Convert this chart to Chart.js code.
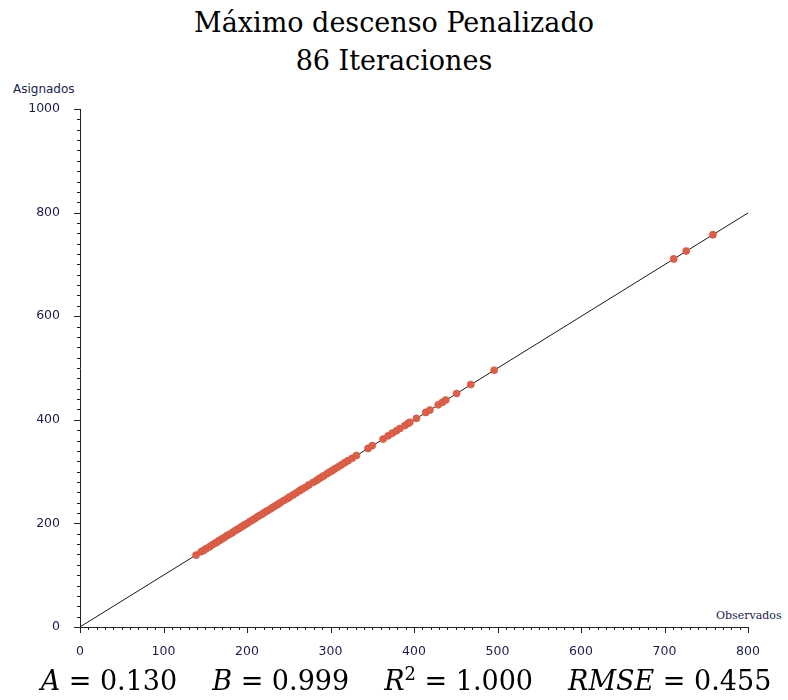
<!DOCTYPE html>
<html>
<head>
<meta charset="utf-8">
<script src="https://cdn.jsdelivr.net/npm/chart.js@4"></script>
<style>
  body { margin: 0; background: #fff; }
  #wrap { position: relative; width: 788px; height: 700px; }
  #chart { position: absolute; left: 0; top: 0; }
  .title { position: absolute; left: 0; width: 788px; text-align: center;
           font-family: "DejaVu Serif", serif; font-size: 27px; color: #000; line-height: 1; }
  .axlabel { position: absolute; font-size: 12px; color: #1c1c4c; }
  #formula { position: absolute; left: 12px; top: 665px; width: 788px; text-align: center;
             font-family: "DejaVu Serif", serif; font-size: 27px; line-height: 1; color: #000; }
  #formula span.gap { display: inline-block; width: 35px; }
</style>
</head>
<body>
<div id="wrap">
  <div class="title" style="top:9px">Máximo descenso Penalizado</div>
  <div class="title" style="top:47px">86 Iteraciones</div>
  <div class="axlabel" style="left:13px; top:82px; font-family:'DejaVu Sans', sans-serif;">Asignados</div>
  <div class="axlabel" style="left:716px; top:609px; font-family:'DejaVu Serif', serif; font-size:11px;">Observados</div>
  <canvas id="chart" width="788" height="700"></canvas>
  <div id="formula"><i>A</i> = 0.130<span class="gap"></span><i>B</i> = 0.999<span class="gap"></span><i>R</i><sup style="font-size:18px">2</sup> = 1.000<span class="gap"></span><i>RMSE</i> = 0.455</div>
</div>
<script>
const observados = [139, 145, 148, 151, 155, 158, 161, 164, 167, 170, 173, 176, 179, 182, 185, 188,
  191, 194, 197, 200, 203, 206, 209, 212, 215, 218, 221, 224, 228, 231, 234, 237, 240, 244, 248,
  251, 255, 259, 263, 266, 270, 274, 279, 283, 286, 289, 292, 296, 299, 302, 305, 309, 313, 317,
  321, 326, 331, 345, 350, 363, 369, 374, 379, 383, 389, 393, 395, 403, 414, 419, 429, 434, 438,
  451, 468, 496, 711, 726, 758]
const asignados = [138.9, 145.3, 147.8, 151.2, 154.7, 158.3, 161.1, 163.8, 167.2, 170.1, 172.8, 176.3,
  179.0, 181.7, 185.2, 188.1, 190.8, 194.2, 197.1, 199.7, 203.2, 206.0, 208.8, 212.3, 215.1, 217.8,
  221.2, 224.0, 227.7, 231.2, 234.1, 236.8, 240.2, 244.1, 247.7, 251.2, 255.0, 258.8, 263.2, 266.0,
  269.8, 274.2, 279.0, 282.7, 286.2, 289.1, 291.8, 296.2, 299.0, 301.8, 305.2, 309.0, 312.8, 317.2,
  321.0, 325.8, 331.1, 344.8, 350.2, 362.7, 369.1, 374.2, 378.8, 383.2, 388.8, 393.1, 395.2, 402.8,
  414.2, 418.8, 429.1, 433.8, 438.2, 450.8, 468.1, 495.7, 710.6, 725.8, 757.4]
const ajusteX = [0, 800]
const ajusteY = [0.13, 799.3]
const xTicks = [0, 100, 200, 300, 400, 500, 600, 700, 800]
const yTicks = [0, 200, 400, 600, 800, 1000]

const puntos = observados.map((x, i) => ({ x: x, y: asignados[i] }))
const recta = ajusteX.map((x, i) => ({ x: x, y: ajusteY[i] }))

// minor + major ticks drawn with the scales' own pixel mapping
const ticksPlugin = {
  id: "axisTicks",
  afterDraw(chart) {
    const ctx = chart.ctx
    const xs = chart.scales.x, ys = chart.scales.y
    const area = chart.chartArea
    ctx.save()
    ctx.strokeStyle = "#222"
    ctx.lineWidth = 1
    ctx.beginPath()
    for (let v = 0; v <= 800; v += 10) {
      const px = Math.round(xs.getPixelForValue(v)) + 0.5
      const len = v % 100 === 0 ? 6 : 3
      ctx.moveTo(px, area.bottom)
      ctx.lineTo(px, area.bottom + len)
    }
    for (let v = 0; v <= 1000; v += 20) {
      const py = Math.round(ys.getPixelForValue(v)) + 0.5
      const len = v % 200 === 0 ? 6 : 3
      ctx.moveTo(area.left, py)
      ctx.lineTo(area.left - len, py)
    }
    ctx.stroke()
    ctx.restore()
  }
}

new Chart(document.getElementById("chart"), {
  type: "scatter",
  data: {
    datasets: [
      {
        data: puntos,
        backgroundColor: "#dc5f4a",
        borderColor: "#c9543f",
        borderWidth: 0.5,
        pointRadius: 3.6,
        order: 1
      },
      {
        type: "line",
        data: recta,
        borderColor: "#1a1a10",
        borderWidth: 1,
        pointRadius: 0,
        fill: false,
        order: 2
      }
    ]
  },
  options: {
    responsive: false,
    animation: false,
    layout: { padding: { left: 0, right: 40, top: 109, bottom: 0 } },
    plugins: { legend: { display: false }, tooltip: { enabled: false } },
    scales: {
      x: {
        type: "linear",
        min: 0,
        max: 800,
        afterFit: s => { s.height = 73 },
        afterBuildTicks: s => { s.ticks = xTicks.map(v => ({ value: v })) },
        grid: { display: false },
        border: { display: true, color: "#222", width: 1 },
        ticks: { color: "#1c1c4c", padding: 9, font: { family: "DejaVu Sans", size: 12.5 }, maxRotation: 0,
                 callback: v => String(v) }
      },
      y: {
        type: "linear",
        min: 0,
        max: 1000,
        afterFit: s => { s.width = 80 },
        afterBuildTicks: s => { s.ticks = yTicks.map(v => ({ value: v })) },
        grid: { display: false },
        border: { display: true, color: "#222", width: 1 },
        ticks: { color: "#1c1c4c", padding: 12, font: { family: "DejaVu Sans", size: 12.5 },
                 callback: v => String(v) }
      }
    }
  },
  plugins: [ticksPlugin]
})
</script>
</body>
</html>
